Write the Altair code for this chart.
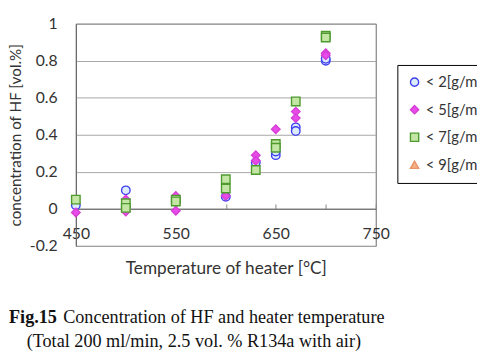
import altair as alt
import pandas as pd

series_names = ["< 2[g/m3]", "< 5[g/m3]", "< 7[g/m3]", "< 9[g/m3]"]
shapes = ["circle", "diamond", "square", "triangle-up"]
fills = ["#dcecfb", "#e84ce8", "#c3e6a4", "#f4b183"]
strokes = ["#3f3ff0", "#d63cd6", "#4f9a2f", "#e8946a"]

temp_2 = [450, 500, 550, 600, 630, 650, 650, 670, 670, 700, 700]
conc_2 = [0.02, 0.10, 0.04, 0.065, 0.25, 0.29, 0.31, 0.44, 0.42, 0.80, 0.81]
temp_5 = [450, 500, 500, 550, 550, 600, 630, 630, 650, 670, 670, 700, 700]
conc_5 = [-0.02, -0.015, 0.05, -0.01, 0.07, 0.07, 0.29, 0.26, 0.43, 0.525, 0.49, 0.84, 0.83]
temp_7 = [450, 500, 500, 550, 550, 600, 600, 630, 650, 650, 670, 700, 700]
conc_7 = [0.05, 0.03, 0.005, 0.05, 0.04, 0.16, 0.11, 0.21, 0.35, 0.33, 0.58, 0.935, 0.925]
temp_9 = []
conc_9 = []

x_labels = [450, 550, 650, 750]
x_ticks = [450, 500, 550, 600, 650, 700, 750]
y_ticks = [-0.2, 0, 0.2, 0.4, 0.6, 0.8, 1]

caption_bold = "Fig.15"
caption_1 = "Concentration of HF and heater temperature"
caption_2 = "(Total 200 ml/min, 2.5 vol. % R134a with air)"

rows = []
for i, (ts, cs) in enumerate([(temp_2, conc_2), (temp_5, conc_5), (temp_7, conc_7), (temp_9, conc_9)]):
    for t, c in zip(ts, cs):
        rows.append({"temp": t, "conc": c, "series": series_names[i], "k": i})
df = pd.DataFrame(rows)

W, H = 305, 226
FONT = "Lato"
CAP = 18.5

xscale = alt.Scale(domain=[450, 750], nice=False, zero=False)
yscale = alt.Scale(domain=[-0.2, 1], nice=False, zero=False)
yaxis = alt.Axis(values=y_ticks, grid=True, gridColor="#a6a6a6", ticks=False,
                 domainColor="#666666", labelExpr="datum.value + ''",
                 labelPadding=19, title="concentration of HF [vol.%]", titlePadding=6,
                 titleFontSize=15.5)

leg = alt.Legend(orient="none", legendX=327, legendY=42, title=None,
                 strokeColor="black", fillColor="white", padding=10, rowPadding=12,
                 labelFontSize=15, labelFont=FONT, labelColor="#333333",
                 symbolSize=70, symbolStrokeWidth=1.4, labelLimit=300, labelOffset=4)

points = alt.Chart(df).mark_point(filled=True, size=75, strokeWidth=1.4, opacity=1).encode(
    x=alt.X("temp:Q", scale=xscale,
            axis=alt.Axis(orient="bottom", values=x_labels, domain=False, ticks=False,
                          grid=False, labelPadding=17, labelFlush=False, offset=-H * 0.2 / 1.2,
                          title="Temperature of heater [°C]", titlePadding=19, titleFontSize=17.5)),
    y=alt.Y("conc:Q", scale=yscale, axis=yaxis),
    fill=alt.Fill("series:N", scale=alt.Scale(domain=series_names, range=fills), legend=leg),
    stroke=alt.Stroke("series:N", scale=alt.Scale(domain=series_names, range=strokes), legend=leg),
    shape=alt.Shape("series:N", scale=alt.Scale(domain=series_names, range=shapes), legend=leg),
    order=alt.Order("k:Q"),
)

top_axis = alt.Chart(df).mark_point(opacity=0).encode(
    x=alt.X("temp:Q", scale=xscale,
            axis=alt.Axis(orient="top", values=x_ticks, labels=False, title=None,
                          domainColor="#666666", tickColor="#888888", tickSize=5,
                          offset=-H / 1.2, grid=False)),
    y=alt.Y("conc:Q", scale=yscale, axis=yaxis),
)

cap_df = pd.DataFrame({"a": [caption_bold], "b": [caption_1], "c": [caption_2]})
cap_bold = alt.Chart(cap_df).mark_text(font="Liberation Serif", fontSize=CAP, fontWeight="bold",
                                       align="left", baseline="alphabetic", color="#111111").encode(
    text="a:N", x=alt.value(-68), y=alt.value(304))
cap_1 = alt.Chart(cap_df).mark_text(font="Liberation Serif", fontSize=CAP,
                                    align="right", baseline="alphabetic", color="#111111").encode(
    text="b:N", x=alt.value(314), y=alt.value(304))
cap_2 = alt.Chart(cap_df).mark_text(font="Liberation Serif", fontSize=CAP,
                                    align="center", baseline="alphabetic", color="#111111").encode(
    text="c:N", x=alt.value(120), y=alt.value(329))

chart = alt.layer(top_axis, points, cap_bold, cap_1, cap_2).resolve_axis(x="independent").properties(
    width=W, height=H,
    autosize=alt.AutoSizeParams(type="none"),
    padding={"left": 69, "top": 13, "right": 103, "bottom": 105},
).configure_view(stroke="#666666", strokeWidth=1).configure_axis(
    labelFont=FONT, labelFontSize=16, labelColor="#333333",
    titleFont=FONT, titleFontSize=15, titleFontWeight="normal", titleColor="#333333",
)

chart.save("out.html", embed_options={"renderer": "svg", "actions": False})
